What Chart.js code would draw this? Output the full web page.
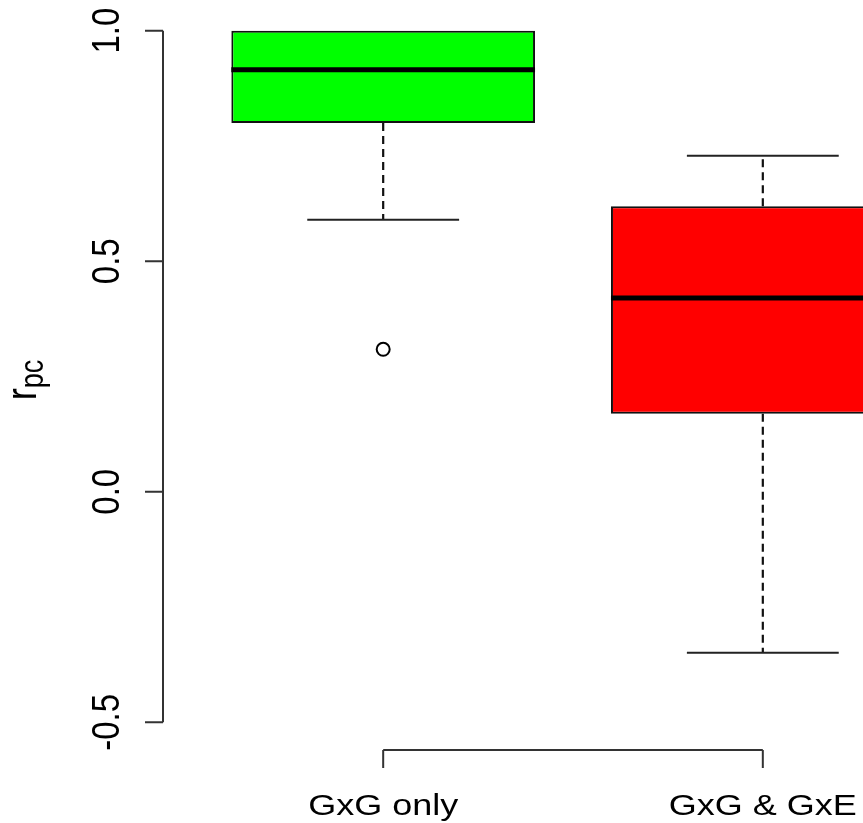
<!DOCTYPE html>
<html>
<head>
<meta charset="utf-8">
<script src="https://cdn.jsdelivr.net/npm/chart.js@4.4.1/dist/chart.umd.min.js"></script>
<style>
  html, body { margin: 0; padding: 0; background: #fff; overflow: hidden; width: 863px; height: 823px; }
  canvas { display: block; }
</style>
</head>
<body>
<canvas id="c" width="1000" height="823"></canvas>
<script>
// ---- data ----
const categories = ['GxG only', 'GxG & GxE'];
const positions = [1, 2];
const whiskerLow = [0.590, -0.349];
const q1 = [0.800, 0.169];
const median = [0.915, 0.420];
const q3 = [1.000, 0.619];
const whiskerHigh = [1.000, 0.729];
const outliersX = [1];
const outliersY = [0.309];
const boxColors = ['#00FF00', '#FF0000'];
const yTicks = [-0.5, 0.0, 0.5, 1.0];
const yTickLabels = ['-0.5', '0.0', '0.5', '1.0'];

const AXIS_COLOR = '#333333';
const TEXT_XSCALE = 1.2;
const BOX_WEX = 0.8;

const boxData = positions.map((p, i) => ({ x: p, y: [q1[i], q3[i]] }));
const outlierData = outliersX.map((x, i) => ({ x: x, y: outliersY[i] }));

function stretchedText(ctx, text, x, y, rot, font, align, baseline) {
  ctx.save();
  ctx.translate(x, y);
  ctx.scale(TEXT_XSCALE, 1);
  ctx.rotate(rot);
  ctx.font = font;
  ctx.textAlign = align;
  ctx.textBaseline = baseline;
  ctx.fillStyle = '#000';
  ctx.fillText(text, 0, 0);
  ctx.restore();
}

const boxPlugin = {
  id: 'boxparts',
  afterDatasetsDraw(chart) {
    const ctx = chart.ctx;
    const xs = chart.scales.x, ys = chart.scales.y;
    const halfBox = (xs.getPixelForValue(1 + BOX_WEX / 2) - xs.getPixelForValue(1));
    ctx.save();
    positions.forEach((p, i) => {
      const cx = xs.getPixelForValue(p);
      // whiskers (dashed)
      ctx.strokeStyle = '#111';
      ctx.lineWidth = 2.2;
      ctx.setLineDash([8, 5]);
      ctx.beginPath();
      ctx.moveTo(cx, ys.getPixelForValue(q3[i]));
      ctx.lineTo(cx, ys.getPixelForValue(whiskerHigh[i]));
      ctx.moveTo(cx, ys.getPixelForValue(q1[i]));
      ctx.lineTo(cx, ys.getPixelForValue(whiskerLow[i]));
      ctx.stroke();
      ctx.setLineDash([]);
      // staples
      ctx.strokeStyle = '#222';
      ctx.lineWidth = 2;
      ctx.beginPath();
      [whiskerLow[i], whiskerHigh[i]].forEach(v => {
        if ((v === whiskerHigh[i] && v === q3[i]) || (v === whiskerLow[i] && v === q1[i])) return;
        const py = ys.getPixelForValue(v);
        ctx.moveTo(cx - halfBox / 2, py);
        ctx.lineTo(cx + halfBox / 2, py);
      });
      ctx.stroke();
      // median
      ctx.strokeStyle = '#000';
      ctx.lineWidth = 5;
      ctx.beginPath();
      const my = ys.getPixelForValue(median[i]);
      ctx.moveTo(cx - halfBox, my);
      ctx.lineTo(cx + halfBox, my);
      ctx.stroke();
    });
    ctx.restore();
  },
  afterDraw(chart) {
    const ctx = chart.ctx;
    const xs = chart.scales.x, ys = chart.scales.y;
    const area = chart.chartArea;
    const tick = 18;
    ctx.save();
    ctx.strokeStyle = AXIS_COLOR;
    ctx.lineWidth = 2;
    // y axis
    const yTop = ys.getPixelForValue(yTicks[yTicks.length - 1]);
    const yBot = ys.getPixelForValue(yTicks[0]);
    ctx.beginPath();
    ctx.moveTo(area.left, yTop);
    ctx.lineTo(area.left, yBot);
    yTicks.forEach(v => {
      const py = ys.getPixelForValue(v);
      ctx.moveTo(area.left, py);
      ctx.lineTo(area.left - tick, py);
    });
    // x axis
    const x1 = xs.getPixelForValue(positions[0]);
    const x2 = xs.getPixelForValue(positions[positions.length - 1]);
    ctx.moveTo(x1, area.bottom);
    ctx.lineTo(x2, area.bottom);
    positions.forEach(p => {
      const px = xs.getPixelForValue(p);
      ctx.moveTo(px, area.bottom);
      ctx.lineTo(px, area.bottom + tick);
    });
    ctx.stroke();
    ctx.restore();

    // y tick labels (rotated)
    yTicks.forEach((v, i) => {
      stretchedText(ctx, yTickLabels[i], 108, ys.getPixelForValue(v), -Math.PI / 2,
        '33px "Liberation Sans", Arial, sans-serif', 'center', 'middle');
    });
    // x labels
    positions.forEach((p, i) => {
      stretchedText(ctx, categories[i], xs.getPixelForValue(p), 815, 0,
        '30px "Liberation Sans", Arial, sans-serif', 'center', 'alphabetic');
    });
    // y title r_pc
    ctx.save();
    ctx.translate(36, 380);
    ctx.scale(TEXT_XSCALE, 1);
    ctx.rotate(-Math.PI / 2);
    ctx.fillStyle = '#000';
    ctx.textBaseline = 'alphabetic';
    const fMain = '36px "Liberation Sans", Arial, sans-serif';
    const fSub = '27px "Liberation Sans", Arial, sans-serif';
    ctx.font = fMain;
    const wr = ctx.measureText('r').width;
    ctx.font = fSub;
    const wpc = ctx.measureText('pc').width;
    const start = -(wr + wpc) / 2;
    ctx.font = fMain;
    ctx.textAlign = 'left';
    ctx.fillText('r', start, 0);
    ctx.font = fSub;
    ctx.fillText('pc', start + wr, 6);
    ctx.restore();
  }
};

new Chart(document.getElementById('c'), {
  type: 'bar',
  data: {
    datasets: [
      {
        type: 'bar',
        data: boxData,
        backgroundColor: boxColors,
        borderColor: '#111',
        borderWidth: 2,
        borderSkipped: false,
        barPercentage: BOX_WEX,
        categoryPercentage: 1.0,
        order: 2
      },
      {
        type: 'scatter',
        data: outlierData,
        pointStyle: 'circle',
        pointRadius: 6.5,
        pointBorderWidth: 2,
        pointBorderColor: '#000',
        pointBackgroundColor: 'rgba(0,0,0,0)',
        order: 1
      }
    ]
  },
  options: {
    responsive: false,
    animation: false,
    events: [],
    layout: { autoPadding: false, padding: { left: 163, top: 3, right: 17, bottom: 73 } },
    plugins: { legend: { display: false }, tooltip: { enabled: false } },
    scales: {
      x: {
        type: 'linear', min: 0.42, max: 2.58, offset: false, display: false,
        afterBuildTicks: (scale) => { scale.ticks = positions.map(v => ({ value: v })); }
      },
      y: { type: 'linear', min: -0.56, max: 1.06, display: false }
    }
  },
  plugins: [boxPlugin]
});
</script>
</body>
</html>
